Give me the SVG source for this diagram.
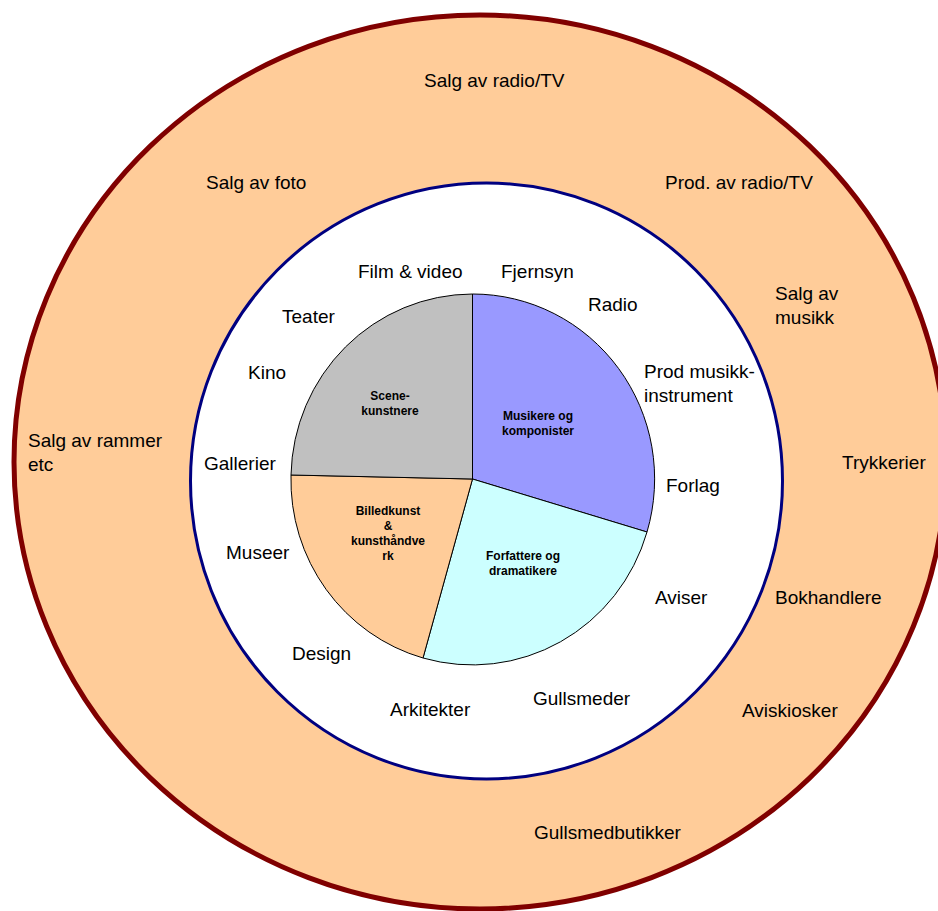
<svg xmlns="http://www.w3.org/2000/svg" width="938" height="911" viewBox="0 0 938 911">
<style>
.t{font-family:"Liberation Sans",Arial,sans-serif;font-size:19px;fill:#000}
.b{font-family:"Liberation Sans",Arial,sans-serif;font-size:12px;font-weight:bold;fill:#000;text-anchor:middle}
.s{stroke:#000;stroke-width:1}
</style>
<rect width="938" height="911" fill="#fff"/>
<g id="outer-ring">
<ellipse cx="480" cy="462" rx="466" ry="447" fill="#FFCC99" stroke="#800000" stroke-width="5"/>
<text class="t" x="424" y="87">Salg av radio/TV</text>
<text class="t" x="206" y="189">Salg av foto</text>
<text class="t" x="665" y="189">Prod. av radio/TV</text>
<text class="t" x="775" y="300">Salg av</text>
<text class="t" x="775" y="324">musikk</text>
<text class="t" x="28" y="447">Salg av rammer</text>
<text class="t" x="28" y="471">etc</text>
<text class="t" x="842" y="469">Trykkerier</text>
<text class="t" x="775" y="604">Bokhandlere</text>
<text class="t" x="742" y="717">Aviskiosker</text>
<text class="t" x="534" y="839">Gullsmedbutikker</text>
</g>
<g id="inner-ring">
<ellipse cx="486.5" cy="481" rx="296" ry="298" fill="#fff" stroke="#000080" stroke-width="3"/>
<text class="t" x="358" y="278">Film &amp; video</text>
<text class="t" x="501" y="278">Fjernsyn</text>
<text class="t" x="588" y="311">Radio</text>
<text class="t" x="282" y="323">Teater</text>
<text class="t" x="248" y="379">Kino</text>
<text class="t" x="644" y="378">Prod musikk-</text>
<text class="t" x="644" y="402">instrument</text>
<text class="t" x="204" y="470">Gallerier</text>
<text class="t" x="666" y="492">Forlag</text>
<text class="t" x="226" y="559">Museer</text>
<text class="t" x="655" y="604">Aviser</text>
<text class="t" x="292" y="660">Design</text>
<text class="t" x="390" y="716">Arkitekter</text>
<text class="t" x="533" y="705">Gullsmeder</text>
</g>
<g id="slice-musikere">
<path class="s" d="M472.5,479 L472.5,294 A182,185 0 0,1 647,532 Z" fill="#9999FF"/>
<text class="b" x="538" y="420">Musikere og</text>
<text class="b" x="538" y="435">komponister</text>
</g>
<g id="slice-forfattere">
<path class="s" d="M472.5,479 L647,532 A182,185 0 0,1 423,658 Z" fill="#CCFFFF"/>
<text class="b" x="523" y="560">Forfattere og</text>
<text class="b" x="523" y="575">dramatikere</text>
</g>
<g id="slice-billedkunst">
<path class="s" d="M472.5,479 L423,658 A182,185 0 0,1 291,475 Z" fill="#FFCC99"/>
<text class="b" x="388" y="515">Billedkunst</text>
<text class="b" x="388" y="530">&amp;</text>
<text class="b" x="388" y="545">kunsthåndve</text>
<text class="b" x="388" y="560">rk</text>
</g>
<g id="slice-scene">
<path class="s" d="M472.5,479 L291,475 A182,185 0 0,1 472.5,294 Z" fill="#C0C0C0"/>
<text class="b" x="390" y="400">Scene-</text>
<text class="b" x="390" y="415">kunstnere</text>
</g>
<g id="connectors"></g>
</svg>
